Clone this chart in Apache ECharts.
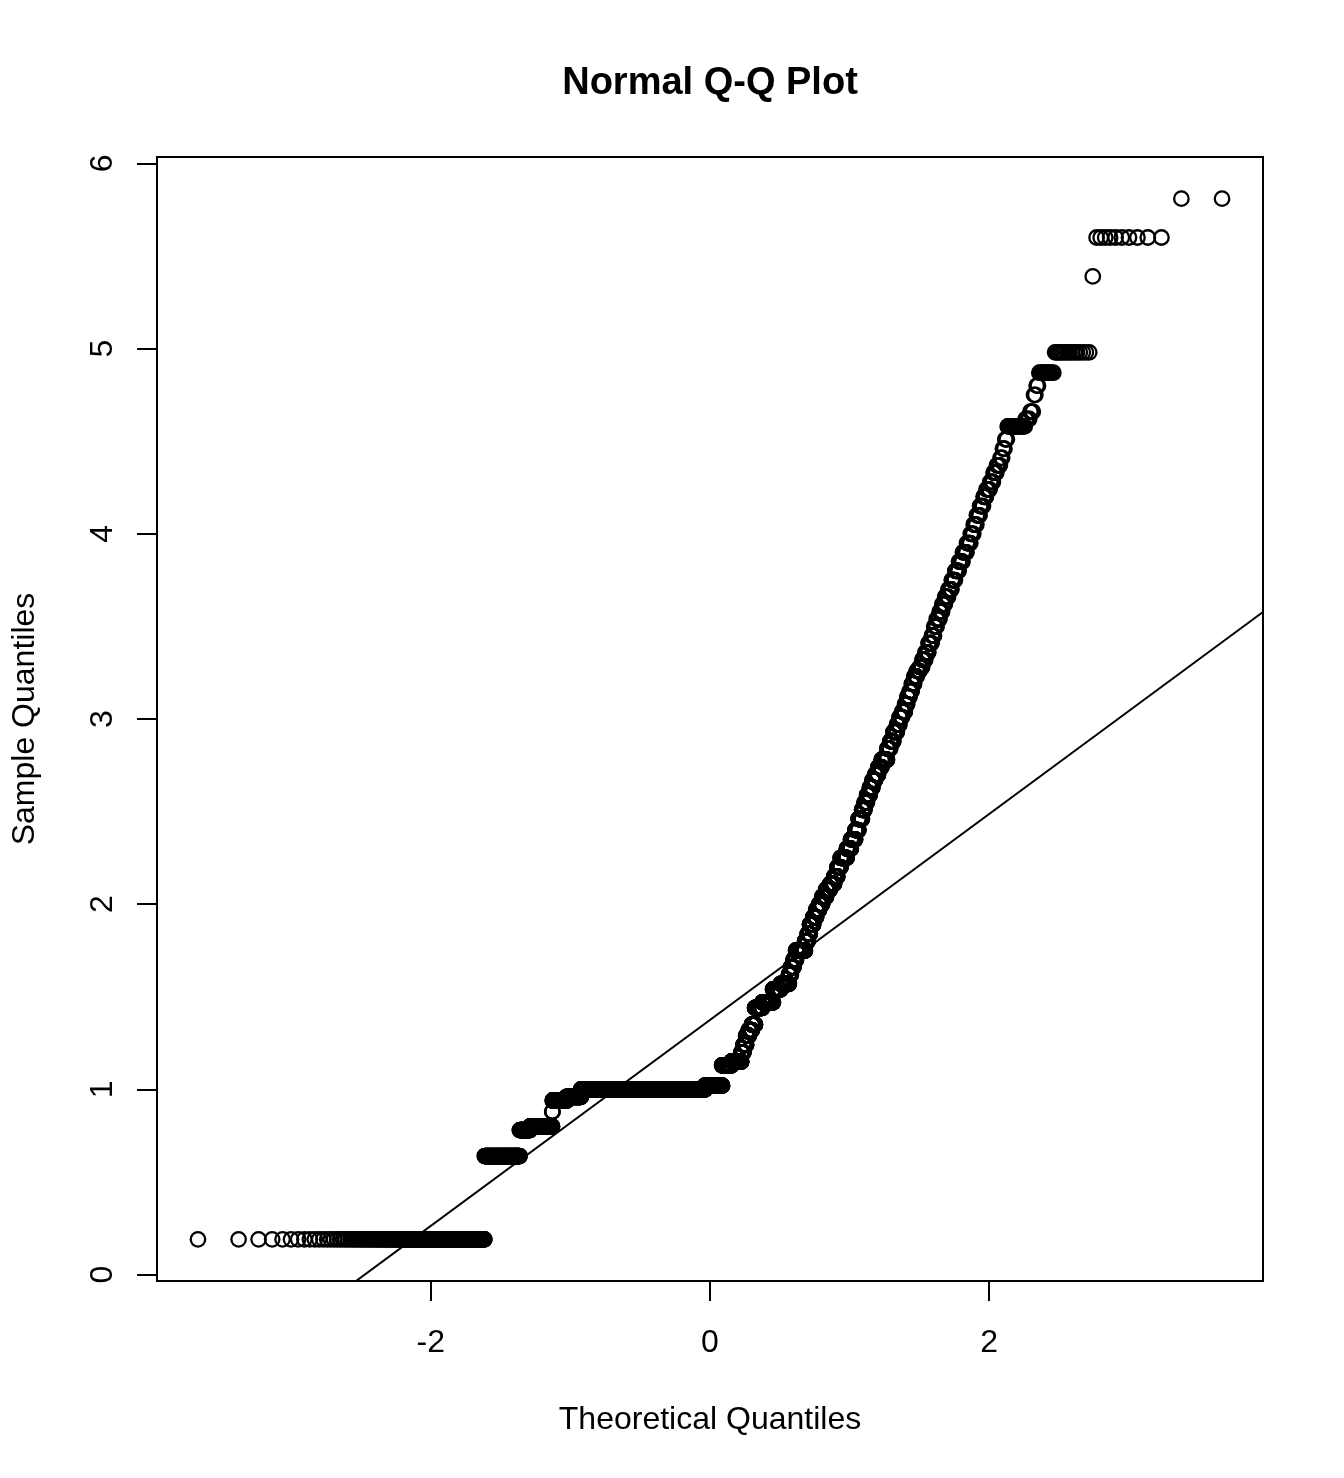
<!DOCTYPE html>
<html><head><meta charset="utf-8">
<script src="https://cdn.jsdelivr.net/npm/echarts@6/dist/echarts.min.js"></script>
<style>html,body{margin:0;padding:0;background:#fff}#c{width:1344px;height:1478px}</style>
</head><body><div id="c"></div>
<script>
const sampleValues = [0.19,0.64,0.78,0.80,0.88,0.94,0.96,1.00,1.02,1.13,1.15,1.20,1.24,1.29,1.32,1.35,1.44,1.47,1.54,1.57,
  1.62,1.66,1.70,1.75,1.80,1.84,1.89,1.93,1.97,2.00,2.04,2.08,2.11,2.15,2.20,2.25,2.30,2.35,2.40,2.46,
  2.51,2.55,2.59,2.63,2.67,2.70,2.74,2.78,2.84,2.88,2.93,2.97,3.01,3.04,3.08,3.12,3.15,3.19,3.23,3.26,
  3.28,3.32,3.36,3.41,3.45,3.50,3.54,3.58,3.62,3.66,3.70,3.75,3.80,3.85,3.90,3.95,4.00,4.05,4.10,4.15,
  4.20,4.24,4.28,4.33,4.37,4.41,4.46,4.51,4.58,4.62,4.66,4.75,4.80,4.87,4.98,5.39,5.60,5.81];
const sampleCounts = [218,136,50,125,3,92,104,1263,200,107,115,25,30,30,35,35,80,115,80,84,
  20,25,25,85,25,20,30,26,26,26,33,33,32,25,25,45,30,30,22,23,
  16,16,17,16,16,17,19,30,16,16,17,12,12,13,10,10,9,10,10,11,
  10,11,11,11,8,8,9,8,8,9,9,9,9,9,9,8,6,6,6,6,
  5,6,5,5,5,3,3,3,19,4,3,2,2,10,15,1,10,2];
const xTickValues = [-2, 0, 2];
const yTickValues = [0, 1, 2, 3, 4, 5, 6];
const titleText = 'Normal Q-Q Plot';
const xTitle = 'Theoretical Quantiles';
const yTitle = 'Sample Quantiles';

// inverse standard normal CDF (Acklam)
function qnorm(p) {
  const a=[-3.969683028665376e+01,2.209460984245205e+02,-2.759285104469687e+02,1.383577518672690e+02,-3.066479806614716e+01,2.506628277459239e+00];
  const b=[-5.447609879822406e+01,1.615858368580409e+02,-1.556989798598866e+02,6.680131188771972e+01,-1.328068155288572e+01];
  const c=[-7.784894002430293e-03,-3.223964580411365e-01,-2.400758277161838e+00,-2.549732539343734e+00,4.374664141464968e+00,2.938163982698783e+00];
  const d=[7.784695709041462e-03,3.224671290700398e-01,2.445134137142996e+00,3.754408661907416e+00];
  const pl=0.02425, ph=1-pl; let q, r;
  if (p < pl) { q=Math.sqrt(-2*Math.log(p)); return (((((c[0]*q+c[1])*q+c[2])*q+c[3])*q+c[4])*q+c[5])/((((d[0]*q+d[1])*q+d[2])*q+d[3])*q+1); }
  if (p <= ph) { q=p-0.5; r=q*q; return (((((a[0]*r+a[1])*r+a[2])*r+a[3])*r+a[4])*r+a[5])*q/(((((b[0]*r+b[1])*r+b[2])*r+b[3])*r+b[4])*r+1); }
  q=Math.sqrt(-2*Math.log(1-p)); return -(((((c[0]*q+c[1])*q+c[2])*q+c[3])*q+c[4])*q+c[5])/((((d[0]*q+d[1])*q+d[2])*q+d[3])*q+1);
}

const sample = [];
sampleValues.forEach((v, i) => { for (let k = 0; k < sampleCounts[i]; k++) sample.push(v); });
const n = sample.length;
const points = sample.map((v, i) => [qnorm((i + 0.5) / n), v]);

function quantile7(arr, p) {
  const h = (arr.length - 1) * p; const lo = Math.floor(h); const hi = Math.ceil(h);
  return arr[lo] + (h - lo) * (arr[hi] - arr[lo]);
}
const q1 = quantile7(sample, 0.25), q3 = quantile7(sample, 0.75);
const slope = (q3 - q1) / (qnorm(0.75) - qnorm(0.25));
const intercept = q1 - slope * qnorm(0.25);

const xs = points.map(p => p[0]);
const xmin0 = Math.min(...xs), xmax0 = Math.max(...xs);
const ymin0 = sample[0], ymax0 = sample[n - 1];
const xpad = 0.04 * (xmax0 - xmin0), ypad = 0.04 * (ymax0 - ymin0);
const xMin = xmin0 - xpad, xMax = xmax0 + xpad, yMin = ymin0 - ypad, yMax = ymax0 + ypad;
const lineData = [[xMin, intercept + slope * xMin], [xMax, intercept + slope * xMax]];

const FONT = "'Liberation Sans', Arial, Helvetica, sans-serif";
const chart = echarts.init(document.getElementById('c'), null, {renderer: 'canvas'});
chart.setOption({
  animation: false,
  backgroundColor: '#fff',
  title: {
    text: titleText, left: 705, top: 60, textAlign: 'center',
    textStyle: {fontFamily: FONT, fontSize: 38, fontWeight: 'bold', color: '#000'}
  },
  grid: {left: 157, top: 157, width: 1106, height: 1124, show: true, borderColor: '#000', borderWidth: 2, backgroundColor: 'transparent'},
  xAxis: {
    type: 'value', min: xMin, max: xMax,
    name: xTitle, nameLocation: 'middle', nameGap: 123,
    nameTextStyle: {fontFamily: FONT, fontSize: 32, color: '#000'},
    axisLine: {show: false, onZero: false}, splitLine: {show: false},
    axisTick: {show: true, length: 20, customValues: xTickValues, lineStyle: {color: '#000', width: 2}},
    axisLabel: {customValues: xTickValues, margin: 46, fontFamily: FONT, fontSize: 32, color: '#000'}
  },
  yAxis: {
    type: 'value', min: yMin, max: yMax,
    name: yTitle, nameLocation: 'middle', nameGap: 116, nameRotate: 90,
    nameTextStyle: {fontFamily: FONT, fontSize: 32, color: '#000'},
    axisLine: {show: false, onZero: false}, splitLine: {show: false},
    axisTick: {show: true, length: 20, customValues: yTickValues, lineStyle: {color: '#000', width: 2}},
    axisLabel: {customValues: yTickValues, rotate: 90, margin: 38, fontFamily: FONT, fontSize: 32, color: '#000'}
  },
  series: [
    {
      type: 'scatter', data: points, symbol: 'circle', symbolSize: 14.5, large: false,
      itemStyle: {color: 'rgba(0,0,0,0)', borderColor: '#000', borderWidth: 2.3, opacity: 1},
      emphasis: {disabled: true}, silent: true, z: 2
    },
    {
      type: 'line', data: lineData, showSymbol: false, clip: true,
      lineStyle: {color: '#000', width: 2}, silent: true, z: 3
    }
  ]
});
</script></body></html>
